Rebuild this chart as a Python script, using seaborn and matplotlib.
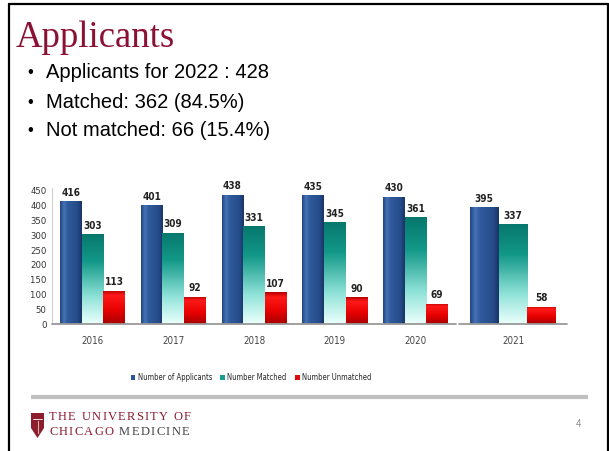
import numpy as np
import pandas as pd
import matplotlib
matplotlib.use("Agg")
import matplotlib.pyplot as plt
import seaborn as sns
from matplotlib.colors import LinearSegmentedColormap
from matplotlib.patches import Patch, Polygon
from matplotlib.lines import Line2D
from matplotlib.font_manager import FontProperties

# ---------------- data ----------------
years = ["2016", "2017", "2018", "2019", "2020", "2021"]
applicants = [416, 401, 438, 435, 430, 395]
matched = [303, 309, 331, 345, 361, 337]
unmatched = [113, 92, 107, 90, 69, 58]
series_names = ["Number of Applicants", "Number Matched", "Number Unmatched"]
y_ticks = list(range(0, 451, 50))
title = "Applicants"
bullets = ["Applicants for 2022 : 428", "Matched: 362 (84.5%)", "Not matched: 66 (15.4%)"]

df = pd.DataFrame({
    "Year": years * 3,
    "Series": np.repeat(series_names, len(years)),
    "Value": applicants + matched + unmatched,
})

sns.set_theme(style="white")
plt.rcParams['font.family'] = ['Liberation Sans', 'DejaVu Sans']

W, H = 609, 451
fig = plt.figure(figsize=(W / 100, H / 100), dpi=100)
fig.patch.set_facecolor("white")


def fx(px):
    return px / W


def fy(py):
    return 1 - py / H


cond = FontProperties(family='DejaVu Sans', stretch='condensed', size=6.8)
cond_b = FontProperties(family='DejaVu Sans', stretch='condensed', weight='bold', size=7.2)

bottom = fy(324)
height = 136 / H
ax1 = fig.add_axes([fx(52), bottom, 404 / W, height])
ax2 = fig.add_axes([fx(459), bottom, 108 / W, height])

base_colors = {"Number of Applicants": "#2b5597",
               "Number Matched": "#1a9e90",
               "Number Unmatched": "#e00a0a"}
cmaps = {
    "Number of Applicants": LinearSegmentedColormap.from_list(
        "b", [(0, "#22467e"), (0.18, "#4673b6"), (0.35, "#2f5a9b"), (0.8, "#264c8a"), (1, "#1a3466")]),
    "Number Matched": LinearSegmentedColormap.from_list(
        "t", [(0, "#07786d"), (0.3, "#129888"), (0.7, "#8fe2d8"), (1, "#eafffc")]),
    "Number Unmatched": LinearSegmentedColormap.from_list(
        "r", [(0, "#b80000"), (0.15, "#ff1a1a"), (0.6, "#e60000"), (1, "#a80000")]),
}

sub1 = df[df.Year != "2021"]
sub2 = df[df.Year == "2021"]
for ax, sub in ((ax1, sub1), (ax2, sub2)):
    sns.barplot(data=sub, x="Year", y="Value", hue="Series", hue_order=series_names,
                palette=base_colors, width=0.8, ax=ax, legend=False, saturation=1)
    n = sub.Year.nunique()
    for cont, name in zip(ax.containers, series_names):
        for bar in cont:
            x0, w, h = bar.get_x(), bar.get_width(), bar.get_height()
            if name == "Number of Applicants":
                arr = np.linspace(0, 1, 64).reshape(1, -1)
            else:
                arr = np.linspace(0, 1, 64).reshape(-1, 1)
            im = ax.imshow(arr, cmap=cmaps[name], extent=(x0, x0 + w, 0, h), aspect='auto',
                           origin='upper', zorder=bar.get_zorder() + 0.1, interpolation='bilinear')
            im.set_clip_path(bar)
        ax.bar_label(cont, padding=2.5, fontproperties=cond_b, color="#222222")
    ax.set_xlim(-0.5, n - 0.5)
    ax.set_ylim(0, 460)
    ax.set_xlabel("")
    ax.set_ylabel("")
    for s in ax.spines.values():
        s.set_visible(False)
    ax.axhline(0, color="#999999", lw=1.3, clip_on=False, zorder=5)
    ax.tick_params(axis='x', length=0, pad=9, labelcolor="#444444")
    for lab in ax.get_xticklabels():
        lab.set_fontproperties(FontProperties(family='DejaVu Sans', stretch='condensed', size=7))
    ax.patch.set_alpha(0)

ax1.spines['left'].set_visible(True)
ax1.spines['left'].set_color("#d0d0d0")
ax1.spines['left'].set_linewidth(0.8)
ax1.set_yticks(y_ticks)
ax1.set_yticklabels([str(v) for v in y_ticks])
for lab in ax1.get_yticklabels():
    lab.set_fontproperties(cond)
ax1.tick_params(axis='y', length=0, pad=4, labelcolor="#333333")
ax2.set_yticks([])

# legend
handles = [Patch(facecolor=base_colors[s], edgecolor='none') for s in series_names]
leg = fig.legend(handles, series_names, loc='center', bbox_to_anchor=(fx(251), fy(378)), ncol=3,
                 frameon=False, prop=FontProperties(family='DejaVu Sans', stretch='condensed', size=5.5),
                 handlelength=0.6, handleheight=0.6, handletextpad=0.3, columnspacing=1.1)

# title and bullets
fig.text(fx(16), fy(47), title, family='Liberation Serif', fontsize=26.5, color="#8b1134", va='baseline')
for i, b in enumerate(bullets):
    yy = fy(73 + 29 * i)
    fig.text(fx(27), yy, "\u2022", fontsize=12, color="black", va='center')
    fig.text(fx(46), yy, b, fontsize=14.5, color="black", va='center')

# separator bar
fig.add_artist(Line2D([fx(31), fx(588)], [fy(397), fy(397)], color="#c0c0c0", lw=3,
                      transform=fig.transFigure, solid_capstyle='butt'))

# slide border
for xs, ys in (([9, 9], [4, 452]), ([9, 608], [4, 4]), ([607.5, 607.5], [4, 452])):
    fig.add_artist(Line2D([fx(v) for v in xs], [fy(v) for v in ys], color="black", lw=1.6,
                          transform=fig.transFigure))

# footer logo
shield = [(31, 413), (44, 413), (44, 428), (37.5, 438), (31, 428)]
fig.add_artist(Polygon([(fx(a), fy(b)) for a, b in shield], closed=True, facecolor="#8b1d2c",
                       edgecolor='none', transform=fig.transFigure))
fig.add_artist(Line2D([fx(33), fx(42)], [fy(419), fy(419)], color="white", lw=0.6, transform=fig.transFigure))
fig.add_artist(Line2D([fx(37.5), fx(37.5)], [fy(421), fy(433)], color="#d9b0b0", lw=0.8, transform=fig.transFigure))

renderer = fig.canvas.get_renderer()
serif = FontProperties(family='Liberation Serif', size=9)


def tw(s):
    if not s:
        return 0.0
    w, _, _ = renderer.get_text_width_height_descent(s + "|", serif, ismath=False)
    w0, _, _ = renderer.get_text_width_height_descent("|", serif, ismath=False)
    return w - w0


def tracked(x_px, y_px, text, colors, track):
    for i, ch in enumerate(text):
        if ch == " ":
            continue
        x = x_px + tw(text[:i]) + track * i
        fig.text(fx(x), fy(y_px), ch, fontproperties=serif, color=colors[i], va='center')


line1 = "THE UNIVERSITY OF"
line2 = "CHICAGO MEDICINE"
red, gray = "#8b1a2e", "#444444"
tracked(49, 417, line1, [red] * len(line1), 1.3)
tracked(49, 432, line2, [red if i < 7 else gray for i in range(len(line2))], 1.3)
fig.text(fx(578), fy(424), "4", fontsize=7, color="#8a8a8a", va='center', ha='center')

fig.savefig("out.png", dpi=100)
